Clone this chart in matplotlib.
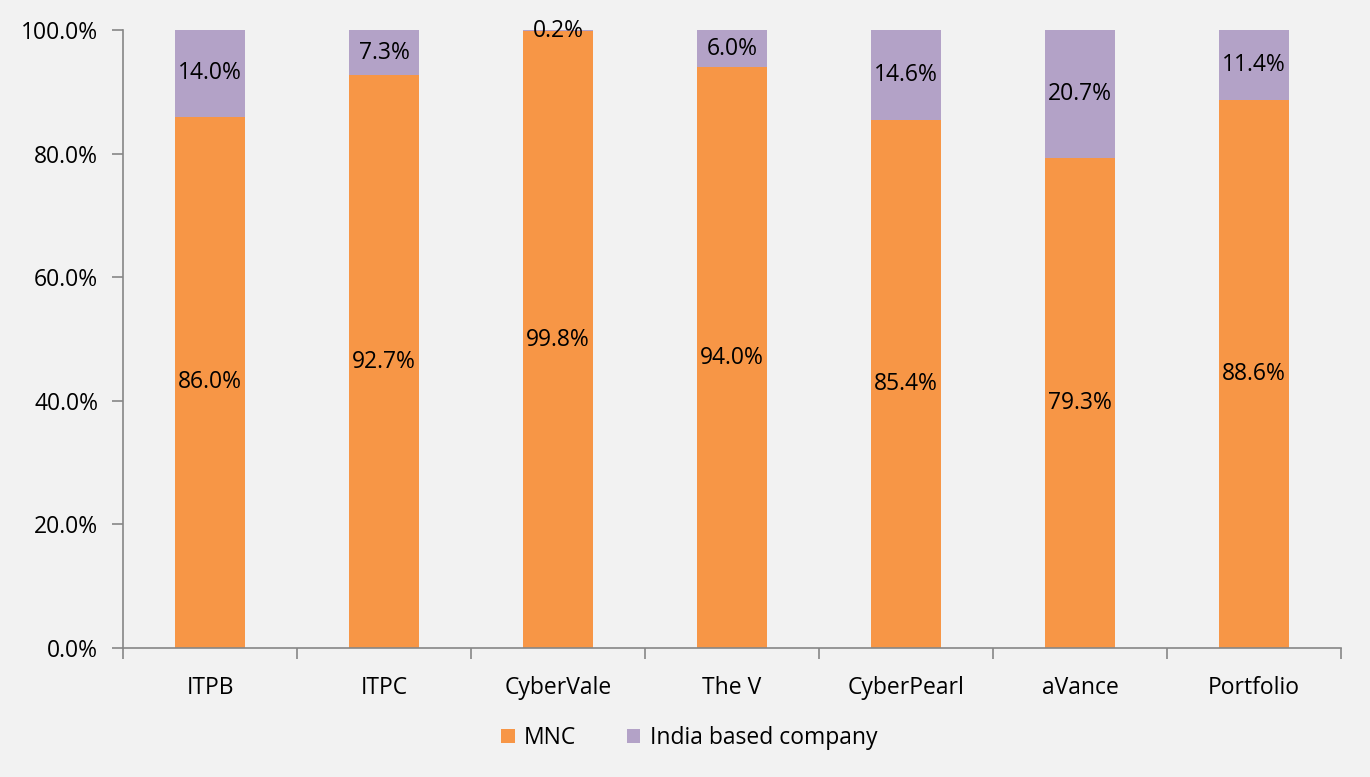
import numpy as np
import matplotlib.pyplot as plt
from matplotlib.ticker import FuncFormatter

categories = ['ITPB', 'ITPC', 'CyberVale', 'The V', 'CyberPearl', 'aVance', 'Portfolio']
mnc = [86.0, 92.7, 99.8, 94.0, 85.4, 79.3, 88.6]
india = [14.0, 7.3, 0.2, 6.0, 14.6, 20.7, 11.4]

plt.rcParams['font.family'] = ['Open Sans', 'DejaVu Sans']

bg = '#F2F2F2'
c_mnc = '#F79646'
c_india = '#B3A2C7'
grey = '#868686'
fs = 16.5

fig = plt.figure(figsize=(13.7, 7.77), dpi=100, facecolor=bg)
ax = fig.add_axes([0.0898, 0.166, 0.889, 0.7954], facecolor=bg)

x = np.arange(len(categories))
ax.bar(x, mnc, width=0.4, color=c_mnc, label='MNC')
ax.bar(x, india, width=0.4, bottom=mnc, color=c_india, label='India based company')

for i in range(len(categories)):
    ax.text(x[i], mnc[i] / 2, '%.1f%%' % mnc[i], ha='center', va='center', fontsize=fs)
    ax.text(x[i], mnc[i] + india[i] / 2, '%.1f%%' % india[i], ha='center', va='center', fontsize=fs)

ax.set_xlim(-0.5, len(categories) - 0.5)
ax.set_ylim(0, 100)
ax.set_yticks(np.arange(0, 101, 20))
ax.yaxis.set_major_formatter(FuncFormatter(lambda v, p: '%.1f%%' % v))

# category labels sit between the boundary ticks
ax.set_xticks(np.arange(-0.5, len(categories), 1.0))
ax.set_xticklabels([])
ax.set_xticks(x, minor=True)
ax.set_xticklabels(categories, minor=True)
ax.tick_params(axis='x', which='minor', length=0, pad=20, labelsize=fs)
ax.tick_params(axis='x', which='major', length=8, color=grey, width=1.2, direction='out')
ax.tick_params(axis='y', length=8, color=grey, width=1.2, labelsize=fs, pad=10)

for s in ['top', 'right']:
    ax.spines[s].set_visible(False)
for s in ['left', 'bottom']:
    ax.spines[s].set_color(grey)
    ax.spines[s].set_linewidth(1.2)

handles, labels = ax.get_legend_handles_labels()
fig.legend(handles, labels, loc='center', bbox_to_anchor=(0.503, 0.05), ncol=2, frameon=False,
           fontsize=fs, handlelength=0.6, handleheight=0.6, handletextpad=0.4,
           columnspacing=2.2)

plt.savefig('out.png', dpi=100, facecolor=bg)
